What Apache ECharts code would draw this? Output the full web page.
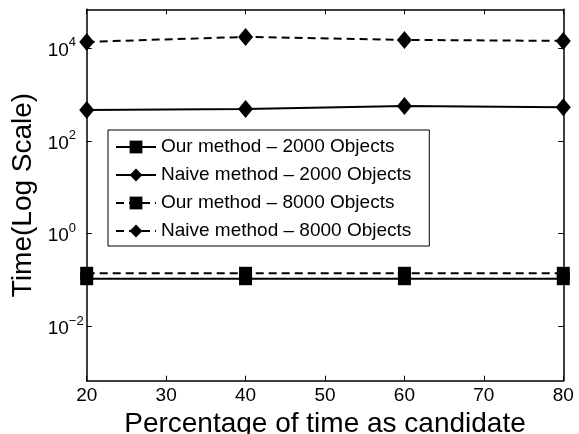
<!DOCTYPE html>
<html><head><meta charset="utf-8">
<script src="https://cdn.jsdelivr.net/npm/echarts@6/dist/echarts.min.js"></script>
<style>html,body{margin:0;padding:0;background:#fff}#c{width:579px;height:434px}</style>
</head><body><div id="c"></div>
<script>
const categories = [20, 40, 60, 80];
const seriesNames = ['Our method – 2000 Objects', 'Naive method – 2000 Objects', 'Our method – 8000 Objects', 'Naive method – 8000 Objects'];
const ourMethod2000 = [0.107, 0.107, 0.107, 0.107];
const naiveMethod2000 = [461, 484, 562, 527];
const ourMethod8000 = [0.14, 0.14, 0.14, 0.14];
const naiveMethod8000 = [13500, 17300, 14900, 14200];
const xTickLabels = [20, 30, 40, 50, 60, 70, 80];
const yTickValues = [0.01, 1, 100, 10000];
const yMin = 6.8e-4, yMax = 6.8e4;

const FF = 'Liberation Sans, Arial, Helvetica, sans-serif';
const pairs = arr => categories.map((x, i) => [x, arr[i]]);

function mkSeries(name, arr, symbol, size, dashed) {
  return {
    name, type: 'line', data: pairs(arr), symbol, symbolSize: size,
    clip: false, z: 3,
    itemStyle: { color: '#000' },
    lineStyle: { color: '#000', width: 2, type: dashed ? [8, 5] : 'solid' },
    emphasis: { disabled: true }
  };
}

const chart = echarts.init(document.getElementById('c'), null, { renderer: 'canvas' });
const supFmt = v => {
  const e = Math.round(Math.log10(v));
  return '{b|10}{s|' + (e < 0 ? '\u2212' + (-e) : e) + '}';
};
const xBase = {
  type: 'value', min: xTickLabels[0], max: xTickLabels[xTickLabels.length - 1], interval: 10,
  splitLine: { show: false },
  axisLine: { onZero: false, lineStyle: { color: '#000', width: 1.5 } },
  axisTick: { inside: true, length: 5, lineStyle: { color: '#000', width: 1 } }
};
chart.setOption({
  animation: false,
  backgroundColor: '#fff',
  grid: { left: 86.7, right: 15.7, top: 9.3, bottom: 53.3, containLabel: false, outerBoundsMode: 'none' },
  legend: {
    orient: 'vertical', left: 108, top: 130,
    backgroundColor: '#fff', borderColor: '#000', borderWidth: 1, borderRadius: 0,
    padding: [7, 18, 5, 7], itemGap: 8, itemWidth: 40, itemHeight: 16,
    textStyle: { fontSize: 19, color: '#000', fontFamily: FF, lineHeight: 20 },
    data: seriesNames, selectedMode: false
  },
  xAxis: [
    Object.assign({}, xBase, {
      position: 'bottom',
      axisLabel: { fontSize: 19, color: '#000', fontFamily: FF, margin: 6 },
      name: 'Percentage of time as candidate', nameLocation: 'middle', nameGap: 25,
      nameTextStyle: { fontSize: 28, color: '#000', fontFamily: FF }
    }),
    Object.assign({}, xBase, { position: 'top', axisLabel: { show: false } })
  ],
  yAxis: [
    {
      type: 'log', logBase: 10, min: yMin, max: yMax, position: 'left',
      splitLine: { show: false },
      axisLine: { onZero: false, lineStyle: { color: '#000', width: 1.5 } },
      axisTick: { inside: true, length: 5, customValues: yTickValues, lineStyle: { color: '#000', width: 1 } },
      axisLabel: {
        customValues: yTickValues, formatter: supFmt, margin: 39, align: 'left', color: '#000',
        rich: {
          b: { fontSize: 19, fontFamily: FF, color: '#000', lineHeight: 24, verticalAlign: 'bottom' },
          s: { fontSize: 13, fontFamily: FF, color: '#000', lineHeight: 15, verticalAlign: 'top' }
        }
      },
      name: 'Time(Log Scale)', nameLocation: 'middle', nameGap: 44,
      nameTextStyle: { fontSize: 28, color: '#000', fontFamily: FF }
    },
    {
      type: 'log', logBase: 10, min: yMin, max: yMax, position: 'right',
      splitLine: { show: false },
      axisLine: { onZero: false, lineStyle: { color: '#000', width: 1.5 } },
      axisTick: { inside: true, length: 5, customValues: yTickValues, lineStyle: { color: '#000', width: 1 } },
      axisLabel: { show: false }
    }
  ],
  series: [
    mkSeries(seriesNames[0], ourMethod2000, 'rect', 13, false),
    mkSeries(seriesNames[1], naiveMethod2000, 'diamond', [15, 18], false),
    mkSeries(seriesNames[2], ourMethod8000, 'rect', 13, true),
    mkSeries(seriesNames[3], naiveMethod8000, 'diamond', [15, 18], true)
  ]
});
</script></body></html>
